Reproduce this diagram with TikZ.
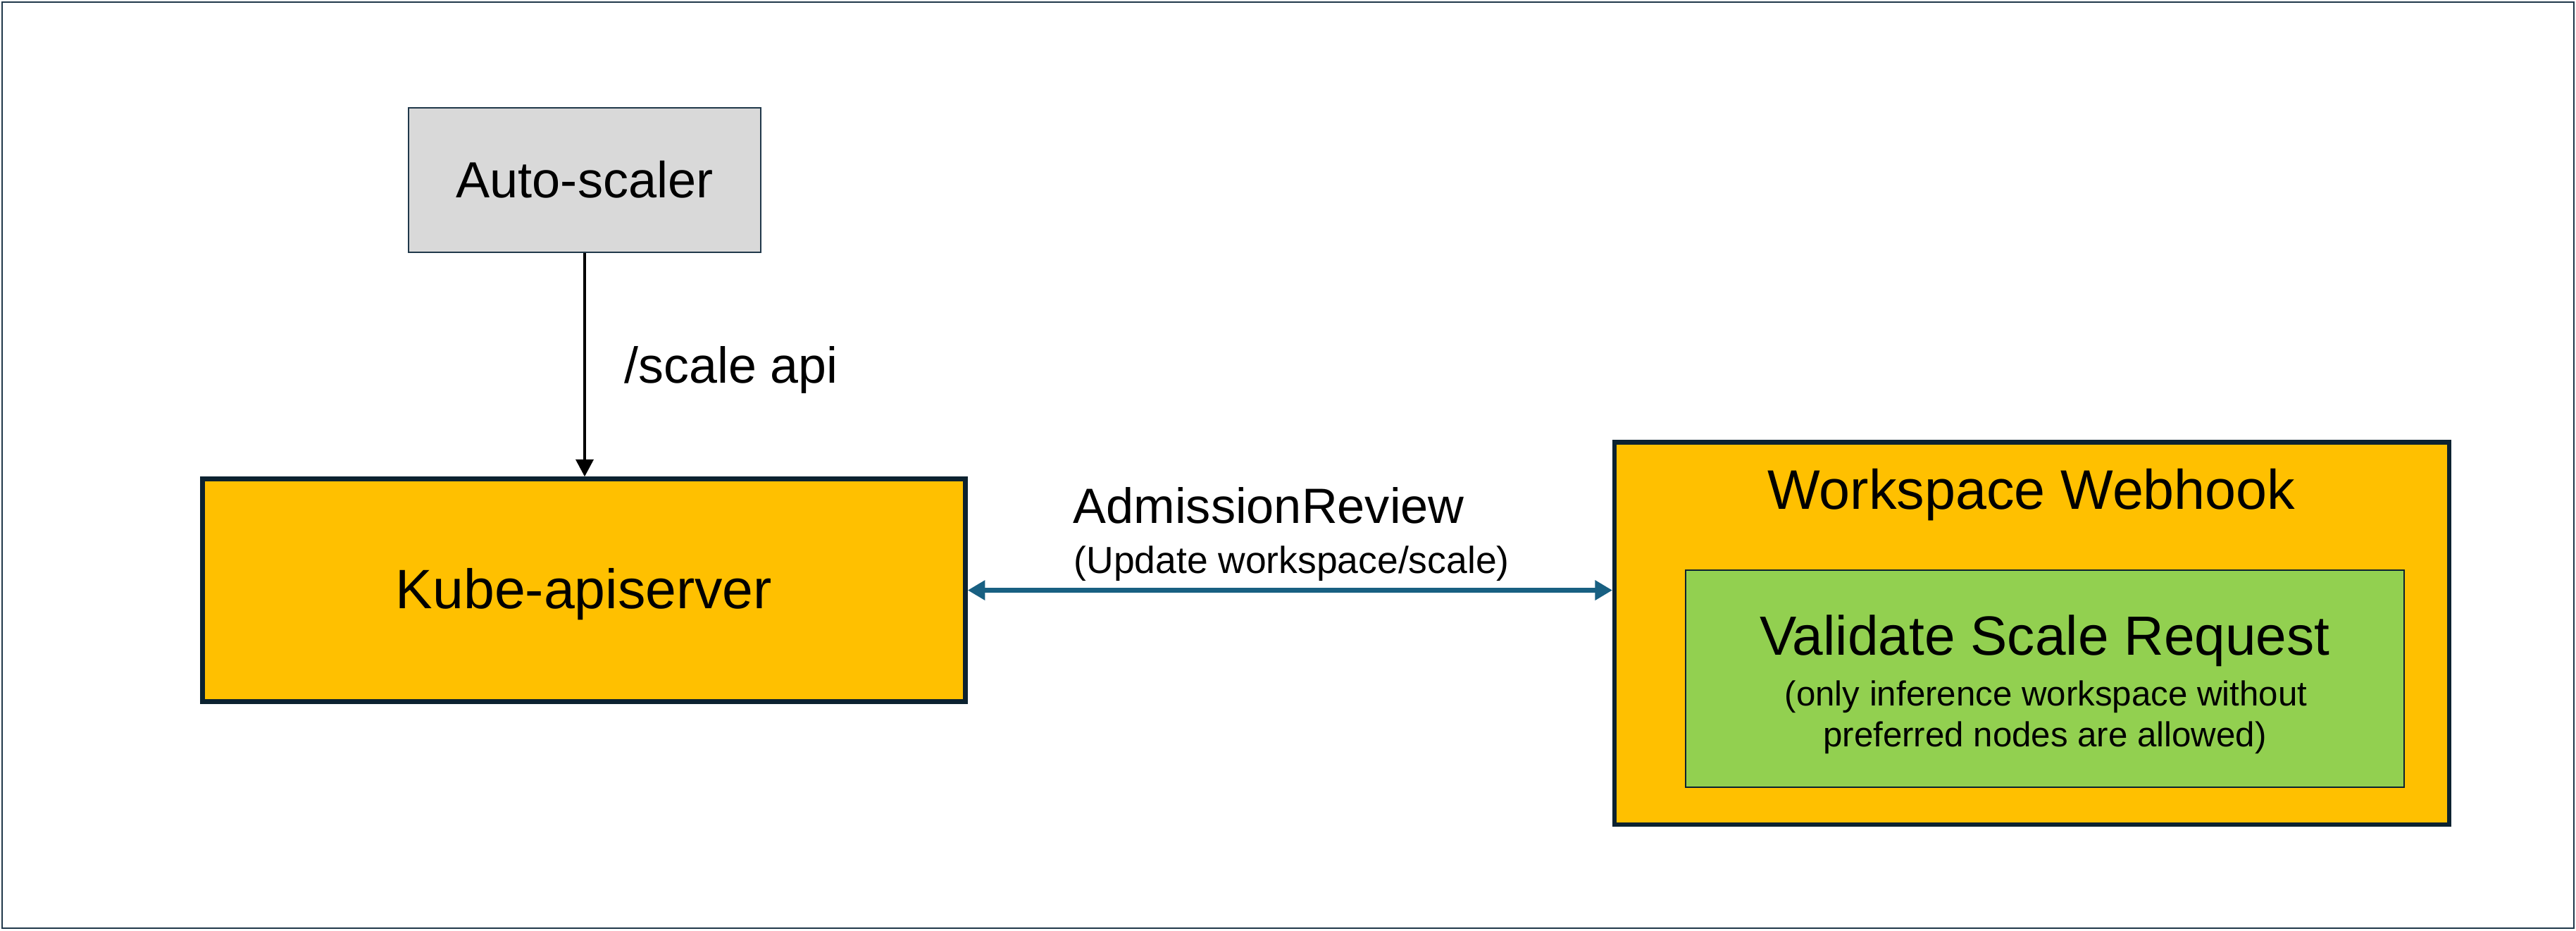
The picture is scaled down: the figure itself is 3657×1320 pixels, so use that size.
\documentclass[tikz,border=0pt]{standalone}
\usepackage{fontspec}
\setmainfont{Liberation Sans}
\usetikzlibrary{arrows.meta}
\definecolor{framecol}{RGB}{32,56,74}
\definecolor{edgecol}{RGB}{12,34,48}
\definecolor{greyfill}{RGB}{217,217,217}
\definecolor{amber}{RGB}{255,192,0}
\definecolor{leaf}{RGB}{146,208,80}
\definecolor{linkblue}{RGB}{24,96,130}
\tikzset{
  greybox/.style={draw=framecol, line width=0.6pt, fill=greyfill, inner sep=0pt},
  amberbox/.style={draw=edgecol, line width=2pt, fill=amber, inner sep=0pt},
  leafbox/.style={draw=edgecol, line width=0.5pt, fill=leaf, inner sep=0pt},
  txt/.style={inner sep=0pt, text=black},
  blackarrow/.style={line width=1.4pt, -{Triangle[length=7pt,width=7pt]}},
  bluearrow/.style={draw=linkblue, line width=2pt, {Triangle[length=7pt,width=7.7pt]}-{Triangle[length=7pt,width=7.7pt]}},
}
\newcommand{\fsz}[1]{\fontsize{#1}{1.2\dimexpr #1\relax}\selectfont}
\begin{document}
\begin{tikzpicture}[x=0.01cm,y=-0.01cm]
\useasboundingbox (0,0) rectangle (3657,1320);
\fill[white] (0,0) rectangle (3657,1320);
\draw[framecol, line width=0.7pt] (3,3) rectangle (3654,1317);

\node[greybox, minimum width=5cm, minimum height=2.05cm, text height=14.2pt, text depth=0pt,
      font=\fsz{20.5pt}] (auto) at (830,255.5) {Auto-scaler};
\node[amberbox, minimum width=10.82cm, minimum height=3.15cm, text height=14.6pt, text depth=0pt,
      font=\fsz{22.4pt}] (kube) at (829,837.5) {Kube-apiserver};

\node[amberbox, line width=1.8pt, minimum width=11.84cm, minimum height=5.42cm] (wh) at (2884.5,898.5) {};
\node[txt, anchor=base, font=\fsz{22.5pt}] (whtitle) at (2884,722) {Workspace Webhook};
\node[leafbox, minimum width=10.2cm, minimum height=3.08cm] (val) at (2903,963) {};
\node[txt, anchor=base, font=\fsz{22.3pt}] (valtitle) at (2903,929) {Validate Scale Request};
\node[txt, anchor=base, font=\fsz{14pt}] (valone) at (2904.5,1001) {(only inference workspace without};
\node[txt, anchor=base, font=\fsz{14pt}] (valtwo) at (2903,1059) {preferred nodes are allowed)};

\draw[blackarrow] (auto.south) -- (auto.south |- kube.north);
\node[txt, anchor=base west, font=\fsz{20.4pt}] (scalelbl) at (886,543) {/scale api};

\draw[bluearrow] (kube.east) -- (kube.east -| wh.west);
\node[txt, anchor=base west, font=\fsz{20pt}] (admlbl) at (1523,742) {AdmissionReview};
\node[txt, anchor=base west, font=\fsz{15.2pt}] (updlbl) at (1524,813) {(Update workspace/scale)};
\end{tikzpicture}
\end{document}
